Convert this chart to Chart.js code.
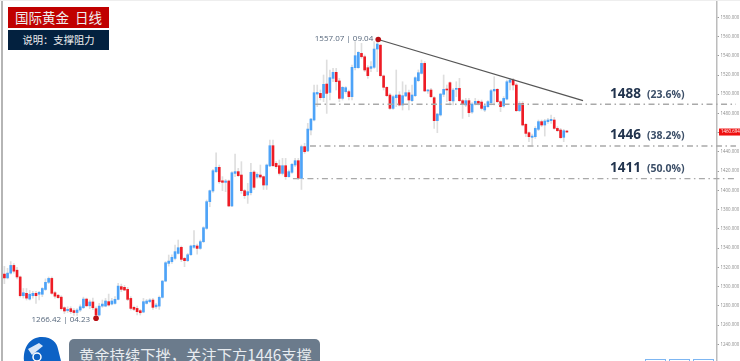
<!DOCTYPE html>
<html>
<head>
<meta charset="utf-8">
<title>国际黄金 日线</title>
<script src="https://cdn.jsdelivr.net/npm/chart.js@4/dist/chart.umd.min.js"></script>
<style>
    html, body { margin: 0; padding: 0; background: #fff; overflow: hidden; }
    #page { position: relative; width: 740px; height: 361px; overflow: hidden; filter: blur(0.4px); font-family: "Noto Sans CJK SC", sans-serif; }
    #chart { position: absolute; left: 0; top: 0; }
    .edge-left { position: absolute; left: 1px; top: 0; width: 1.5px; height: 361px; background: #b5b5b5; }
    .edge-top { position: absolute; left: 0; top: 0; width: 740px; height: 1px; background: #eee; }
    .tag { position: absolute; left: 8px; width: 101px; text-align: center; color: #eee; white-space: nowrap; }
    .tag-red { top: 7px; height: 21px; line-height: 21px; background: #c00000; font-size: 13.5px; }
    .tag-navy { top: 30px; height: 20px; line-height: 20px; background: #03213f; font-size: 10.3px; }
    .note { position: absolute; left: 69px; top: 339px; width: 251px; height: 30px; background: #6b7b8c; border-radius: 5px; color: #e8ecf0; font-size: 15.3px; line-height: 30px; text-indent: 10px; white-space: nowrap; }
    .logo { position: absolute; left: 23px; top: 337px; }
    .btn { position: absolute; top: 358.5px; width: 21px; height: 8px; border: 1.5px solid #7db6f2; box-sizing: border-box; }
</style>
</head>
<body>
<div id="page">
    <canvas id="chart" width="740" height="361"></canvas>
    <div class="edge-left"></div>
    <div class="edge-top"></div>
    <div class="tag tag-red">国际黄金&nbsp;&nbsp;日线</div>
    <div class="tag tag-navy">说明：支撑阻力</div>
    <svg class="logo" width="38" height="24" viewBox="0 0 38 24">
        <path d="M1 24 C0 10 7 0 19 0 C29 0 34 6 35 12 L38 24 Z" fill="#0d62c5"/>
        <path d="M5 12 L16 6 L20 9 L9 18 Z" fill="#fff" opacity="0.85"/>
        <circle cx="14" cy="20" r="4" fill="none" stroke="#fff" stroke-width="1.5"/>
    </svg>
    <div class="note">黄金持续下挫，关注下方1446支撑</div>
    <div class="btn" style="left:645px"></div>
    <div class="btn" style="left:669px"></div>
    <div class="btn" style="left:693px"></div>
</div>
<script>
const opens = [
    1313, 1309, 1314, 1322, 1317, 1310, 1290.5, 1293, 1287, 1290.5,
    1293, 1292, 1292, 1297, 1304.4, 1308.5, 1293.6, 1291, 1289, 1278,
    1275, 1277, 1275, 1273, 1275.6, 1278, 1287, 1280, 1284, 1277,
    1270.4, 1279.7, 1279.7, 1284.3, 1281.8, 1282.5, 1286.7, 1299.9, 1299.2, 1297.1,
    1287.7, 1278.4, 1277.3, 1274.9, 1273.5, 1282.5, 1284.3, 1286, 1279, 1279.7,
    1288.8, 1305.7, 1324.1, 1325.9, 1329.3, 1334.5, 1340.8, 1329.3, 1326.9, 1333.1,
    1340.8, 1342.2, 1339.7, 1346.7, 1360.5, 1388.3, 1399.4, 1419.5, 1424, 1410,
    1408.4, 1409.8, 1383.8, 1417.7, 1419.5, 1416, 1399.7, 1395.2, 1397.6, 1419.1,
    1413.9, 1416, 1414.3, 1405.6, 1425.4, 1446.5, 1428.1, 1425.7, 1417.7, 1425.7,
    1414.3, 1418.8, 1426.4, 1430.9, 1412.5, 1445.5, 1441, 1462.8, 1473.2, 1500.2,
    1500.9, 1496.4, 1510.6, 1501.9, 1516.5, 1522.8, 1513.8, 1495.7, 1502.7, 1502.7,
    1497.5, 1527.6, 1527.6, 1542.5, 1539, 1527.6, 1526.9, 1528, 1547, 1551,
    1519, 1507.2, 1499.2, 1485.3, 1496.4, 1499.2, 1488.8, 1498.2, 1501.6, 1493.3,
    1498.5, 1514.1, 1521.7, 1532.1, 1503.4, 1504.4, 1496.4, 1472.5, 1478.4, 1499.9,
    1505.1, 1512, 1493, 1505.1, 1506.1, 1493.3, 1488.8, 1493.3, 1481.5, 1489.8,
    1492.6, 1491.9, 1483.6, 1487.1, 1491.2, 1503.4, 1505.1, 1492.3, 1487.8, 1495,
    1512.4, 1514.8, 1509.6, 1482.9, 1490.5, 1468.7, 1460, 1455.2, 1455.9, 1463.5,
    1471.5, 1468, 1471.5, 1472.5, 1473.2, 1464.5, 1462.8, 1455.2, 1461.7
];
const closes = [
    1309, 1314, 1322, 1316, 1310, 1290.5, 1293.6, 1288, 1292, 1293,
    1290.5, 1294, 1298, 1304.4, 1308.5, 1293, 1290, 1288.4, 1277, 1274.6,
    1276.3, 1274, 1273, 1275.6, 1279, 1287, 1280, 1284, 1278, 1270.4,
    1279.7, 1281.8, 1285, 1280.8, 1285, 1286.7, 1300.5, 1297.1, 1296.4, 1286.7,
    1277.3, 1276.3, 1273.9, 1272.8, 1284.3, 1285, 1286, 1278.4, 1280.8, 1288.8,
    1305.7, 1324.8, 1326.5, 1330.4, 1336.3, 1340.4, 1328.3, 1326.9, 1333.1, 1342.2,
    1342.8, 1339.7, 1346.7, 1361.2, 1388.3, 1399.7, 1420.5, 1424, 1409, 1408.4,
    1409.8, 1383.8, 1418.4, 1419.5, 1415.3, 1399.7, 1394.5, 1398.7, 1418.8, 1403.2,
    1416.7, 1413.9, 1405.6, 1426.4, 1446.5, 1425.7, 1424.7, 1417.7, 1425.7, 1414.3,
    1419.5, 1427.1, 1430.9, 1412.5, 1445.5, 1440.3, 1463.8, 1474.2, 1501.6, 1501.9,
    1496.4, 1510.3, 1500.9, 1517.2, 1522.8, 1513.1, 1495.7, 1507.2, 1506.8, 1497.5,
    1528, 1540.1, 1543.6, 1539, 1525.2, 1519.3, 1528.7, 1547, 1552.2, 1519.3,
    1507.2, 1498.5, 1485.3, 1497.5, 1499.2, 1488.8, 1498.5, 1501.6, 1494, 1499.2,
    1517.2, 1522.4, 1532.1, 1503.4, 1504.4, 1497.5, 1472.5, 1479.4, 1500.2, 1505.1,
    1504.4, 1493.3, 1504.4, 1506.1, 1493.3, 1489.8, 1493.3, 1480.8, 1489.8, 1492.6,
    1490.5, 1485.3, 1487.8, 1492.3, 1503.7, 1505.1, 1492.3, 1487.1, 1495.7, 1513,
    1514.8, 1509.6, 1482.9, 1490.5, 1468, 1459.3, 1455.9, 1456.5, 1464.5, 1471.5,
    1468, 1472.2, 1473.2, 1473.9, 1464.5, 1462.1, 1454.8, 1462.1, 1460.7
];
const highs = [
    1321, 1319, 1326, 1324, 1320, 1311, 1298, 1298, 1296, 1295,
    1295, 1295, 1299, 1308, 1310, 1310, 1295, 1292, 1290.5, 1279,
    1279, 1279, 1277, 1277, 1281, 1289, 1288, 1286, 1288, 1279,
    1282.5, 1286, 1287.7, 1292.2, 1287.7, 1289.5, 1303.3, 1302.6, 1301.2, 1299.2,
    1289.5, 1279.7, 1279.7, 1276.3, 1287.7, 1286.7, 1287.4, 1287.7, 1282.5, 1290.2,
    1306.5, 1326, 1332.8, 1333, 1343.2, 1348.4, 1342.2, 1330.4, 1334.5, 1343.2,
    1358.1, 1344.2, 1348.4, 1362.3, 1390, 1400.4, 1422, 1439.2, 1426.4, 1414.3,
    1411.5, 1410.8, 1419.5, 1437.8, 1422.9, 1429.9, 1401, 1407.3, 1428.1, 1420.5,
    1418.4, 1426.4, 1415, 1427.4, 1452.4, 1452.4, 1429.9, 1431.6, 1433.3, 1433.3,
    1421.2, 1428.1, 1433.3, 1433.3, 1447.2, 1449, 1469.7, 1474.9, 1509.6, 1509.6,
    1504.4, 1520, 1535.6, 1525.2, 1526.9, 1526.9, 1516.5, 1507.9, 1507.9, 1504.4,
    1530.4, 1554.7, 1544.3, 1552.9, 1540.8, 1529.7, 1533.9, 1554.7, 1557.07, 1552,
    1520, 1507.9, 1500.9, 1499.2, 1525.2, 1502.7, 1513, 1509.6, 1504.4, 1509.6,
    1518.2, 1525.2, 1535.6, 1533.9, 1505.1, 1506.1, 1497.5, 1480.1, 1500.9, 1520,
    1509.6, 1513, 1506.1, 1513, 1516.5, 1494.7, 1495.7, 1495.7, 1491.2, 1495.7,
    1494, 1494, 1488.8, 1493.3, 1505.1, 1518.2, 1506.1, 1493.3, 1497.5, 1514.8,
    1516.5, 1516.5, 1511.3, 1492.3, 1492.3, 1469.7, 1461, 1458.6, 1466.3, 1473.2,
    1473.2, 1473.9, 1474.9, 1478.4, 1476, 1466.3, 1464.5, 1463.5, 1462.4
];
const lows = [
    1303, 1308, 1313, 1314, 1308, 1289, 1288, 1286, 1286, 1288,
    1282.5, 1286, 1289.5, 1296, 1303, 1292, 1288, 1288, 1275.6, 1272,
    1273, 1272, 1270, 1270, 1274, 1277, 1279, 1277, 1276, 1266.4,
    1269.3, 1278.4, 1279, 1279.7, 1280.8, 1281.8, 1286, 1294.7, 1295.7, 1285.3,
    1275.6, 1274.9, 1270.4, 1270.4, 1272.8, 1281.8, 1283.2, 1276.3, 1277.3, 1276.3,
    1288, 1305, 1321.3, 1324.1, 1327.6, 1333.8, 1325.9, 1320.7, 1325.9, 1332.4,
    1339.7, 1333.8, 1338.7, 1345.6, 1359.5, 1383, 1398, 1418.4, 1407.3, 1399.7,
    1398.7, 1383, 1383, 1414.3, 1414.3, 1396.9, 1391.7, 1386.5, 1395.2, 1401,
    1412.5, 1412.5, 1401, 1401, 1424.7, 1424.7, 1422.9, 1416, 1416, 1411.5,
    1413.6, 1417.7, 1424.7, 1411.5, 1401, 1438.5, 1440.3, 1457.6, 1472.2, 1487.1,
    1494, 1492.3, 1480.1, 1494, 1513.1, 1504.4, 1492.3, 1494, 1500.9, 1494,
    1494, 1525.2, 1526.9, 1537.3, 1523.5, 1516.5, 1523.5, 1526.9, 1523.5, 1518,
    1504.4, 1497.5, 1484.3, 1484.3, 1487.1, 1487.8, 1483.6, 1497.5, 1483.6, 1492.3,
    1497.5, 1513, 1521, 1502.7, 1500.9, 1496.4, 1464.5, 1460, 1477.3, 1497.5,
    1492.3, 1488.8, 1488.8, 1497.5, 1492.3, 1474.9, 1487.1, 1476.7, 1480.1, 1488.8,
    1488.8, 1483.6, 1481.9, 1486.4, 1488.8, 1488.8, 1491.2, 1481.9, 1486.4, 1494,
    1504.4, 1504.4, 1481.9, 1481.9, 1467, 1455.9, 1450.7, 1447.2, 1454.1, 1462.1,
    1466.3, 1456.5, 1469.7, 1469.7, 1463.5, 1461, 1454.1, 1450.7, 1460
];
const yTicks = [1580, 1560, 1540, 1520, 1500, 1480, 1460, 1440, 1420, 1400, 1380, 1360, 1340, 1320, 1300, 1280, 1260, 1240];
const levelValues = [1489.6, 1446.2, 1412.2];
const levelStart = [98.3, 96.7, 91.3];
const levelNames = ["1488", "1446", "1411"];
const levelPcts = ["(23.6%)", "(38.2%)", "(50.0%)"];
const trendX = [118.3, 183.1];
const trendY = [1556.9, 1493.3];
const markX = [118.3, 29];
const markY = [1556.9, 1267];
const markText = ["1557.07 | 09.04", "1266.42 | 04.23"];
const lastPrice = 1460.694;

const BLUE = "#4da3f8";
const RED = "#ee1c25";

const labelsPlugin = {
    id: "chartLabels",
    afterDraw: function (chart) {
        const ctx = chart.ctx;
        const x = chart.scales.x;
        const y = chart.scales.y;
        ctx.save();
        ctx.textBaseline = "middle";

        // fib levels
        levelValues.forEach(function (v, i) {
            const py = y.getPixelForValue(v) - 10.5;
            ctx.textAlign = "left";
            ctx.fillStyle = "#22344e";
            ctx.font = "bold 13.5px 'Open Sans'";
            ctx.fillText(levelNames[i], 610, py);
            ctx.fillStyle = "#3c4f68";
            ctx.font = "bold 10.5px 'Open Sans'";
            ctx.fillText(levelPcts[i], 647, py + 1);
        });

        // high / low captions
        ctx.font = "8px 'Open Sans'";
        ctx.fillStyle = "#56677c";
        ctx.textAlign = "right";
        ctx.fillText(markText[0], x.getPixelForValue(markX[0]) - 5, y.getPixelForValue(markY[0]) - 1);
        ctx.fillText(markText[1], x.getPixelForValue(markX[1]) - 6, y.getPixelForValue(markY[1]) + 1);

        // last price tag
        const tagY = y.getPixelForValue(lastPrice);
        ctx.fillStyle = "#ee1111";
        ctx.fillRect(719, tagY - 3.5, 21, 7);
        ctx.fillStyle = "#fff";
        ctx.textAlign = "left";
        ctx.font = "4.4px 'Open Sans'";
        ctx.fillText(lastPrice.toFixed(3), 721, tagY);
        ctx.restore();
    }
};

const wickData = highs.map(function (h, i) { return { x: i, y: [lows[i], h] }; });
const bodyData = opens.map(function (o, i) { return { x: i, y: [o, closes[i]] }; });
const bodyColors = opens.map(function (o, i) { return closes[i] >= o ? BLUE : RED; });

const levelSets = levelValues.map(function (v, i) {
    return {
        type: "line",
        data: [{ x: levelStart[i], y: v }, { x: 231.5, y: v }],
        borderColor: "#a9a9a9",
        borderWidth: 1.3,
        borderDash: [6, 3.5, 1.5, 3.5],
        pointRadius: 0,
        clip: false,
        order: 1
    };
});

new Chart(document.getElementById("chart"), {
    data: {
        datasets: [
            {
                type: "bar",
                data: wickData,
                backgroundColor: "#dedede",
                barThickness: 1,
                grouped: false,
                order: 4
            },
            {
                type: "bar",
                data: bodyData,
                backgroundColor: bodyColors,
                barThickness: 2,
                minBarLength: 1,
                grouped: false,
                order: 3
            }
        ].concat(levelSets, [
            {
                type: "line",
                data: trendX.map(function (v, i) { return { x: v, y: trendY[i] }; }),
                borderColor: "#555",
                borderWidth: 1.2,
                pointRadius: 0,
                order: 2
            },
            {
                type: "scatter",
                data: markX.map(function (v, i) { return { x: v, y: markY[i] }; }),
                backgroundColor: "#b80f14",
                borderWidth: 0,
                pointRadius: 2.8,
                order: 0
            }
        ])
    },
    options: {
        responsive: false,
        animation: false,
        layout: { padding: 0, autoPadding: false },
        plugins: { legend: { display: false }, tooltip: { enabled: false } },
        scales: {
            x: {
                type: "linear",
                display: false,
                min: -1.39,
                max: 225.5,
                offset: false
            },
            y: {
                type: "linear",
                position: "right",
                min: 1222.6,
                max: 1598,
                afterFit: function (scale) {
                    scale.width = 23;
                    scale.paddingTop = 0;
                    scale.paddingBottom = 0;
                },
                afterBuildTicks: function (scale) {
                    scale.ticks = yTicks.map(function (v) { return { value: v }; });
                },
                border: { color: "#bcbcbc", width: 1.5 },
                grid: { drawOnChartArea: false, tickLength: 2, color: "#999" },
                ticks: {
                    autoSkip: false,
                    maxRotation: 0,
                    padding: 1.5,
                    color: "#8a8a8a",
                    font: { size: 4.4, family: "'Open Sans'" },
                    callback: function (v) { return Number(v).toFixed(3); }
                }
            }
        }
    },
    plugins: [labelsPlugin]
});
</script>
</body>
</html>
